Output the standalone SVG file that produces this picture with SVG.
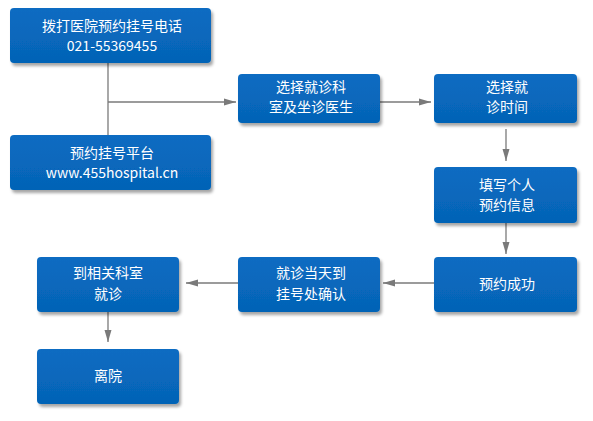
<svg xmlns="http://www.w3.org/2000/svg" width="593" height="421" viewBox="0 0 593 421">
<style>
.box{fill:url(#g);filter:url(#sh)}
.t{font-family:"Microsoft YaHei","Noto Sans CJK SC",sans-serif;font-size:14px;fill:#fff;text-anchor:middle}
.c{stroke:#7a7a7a;stroke-width:1.3;fill:none}
</style>
<defs>
<linearGradient id="g" x1="0" y1="0" x2="0" y2="1">
<stop offset="0" stop-color="#0a6cc2"/>
<stop offset="1" stop-color="#0563b6"/>
</linearGradient>
<filter id="sh" x="-10%" y="-10%" width="125%" height="135%">
<feDropShadow dx="2" dy="3" stdDeviation="1.5" flood-color="#000" flood-opacity="0.35"/>
</filter>
<marker id="a" viewBox="0 0 12 8" refX="12" refY="4" markerWidth="12" markerHeight="8" markerUnits="userSpaceOnUse" orient="auto">
<path d="M0,0.5 L12,4 L0,7.5 Z" fill="#7a7a7a"/>
</marker>
</defs>
<rect width="593" height="421" fill="#fff"/>
<g id="connectors">
<path class="c" d="M108,63 V135"/>
<path class="c" d="M108,102 H236" marker-end="url(#a)"/>
<path class="c" d="M380,102 H431" marker-end="url(#a)"/>
<path class="c" d="M506,129 V161" marker-end="url(#a)"/>
<path class="c" d="M506,223 V254" marker-end="url(#a)"/>
<path class="c" d="M434,283 H383" marker-end="url(#a)"/>
<path class="c" d="M238,283 H186" marker-end="url(#a)"/>
<path class="c" d="M108,312 V342" marker-end="url(#a)"/>
</g>
<g id="n1"><rect class="box" x="10" y="8" width="201" height="55" rx="4"/><text class="t" x="112" y="31">拨打医院预约挂号电话</text><text class="t" x="112" y="51">021-55369455</text></g>
<g id="n2"><rect class="box" x="10" y="135" width="201" height="55" rx="4"/><text class="t" x="112" y="158">预约挂号平台</text><text class="t" x="112" y="178">www.455hospital.cn</text></g>
<g id="n3"><rect class="box" x="238" y="74" width="142" height="49" rx="4"/><text class="t" x="311" y="92">选择就诊科</text><text class="t" x="311" y="112">室及坐诊医生</text></g>
<g id="n4"><rect class="box" x="434" y="74" width="143" height="49" rx="4"/><text class="t" x="507" y="92">选择就</text><text class="t" x="507" y="112">诊时间</text></g>
<g id="n5"><rect class="box" x="434" y="167" width="143" height="56" rx="4"/><text class="t" x="507" y="190">填写个人</text><text class="t" x="507" y="210">预约信息</text></g>
<g id="n6"><rect class="box" x="434" y="257" width="143" height="55" rx="4"/><text class="t" x="507" y="289">预约成功</text></g>
<g id="n7"><rect class="box" x="238" y="257" width="142" height="55" rx="4"/><text class="t" x="311" y="278">就诊当天到</text><text class="t" x="311" y="299">挂号处确认</text></g>
<g id="n8"><rect class="box" x="37" y="257" width="142" height="55" rx="4"/><text class="t" x="108" y="278">到相关科室</text><text class="t" x="108" y="299">就诊</text></g>
<g id="n9"><rect class="box" x="37" y="349" width="142" height="55" rx="4"/><text class="t" x="108" y="381">离院</text></g>
</svg>
